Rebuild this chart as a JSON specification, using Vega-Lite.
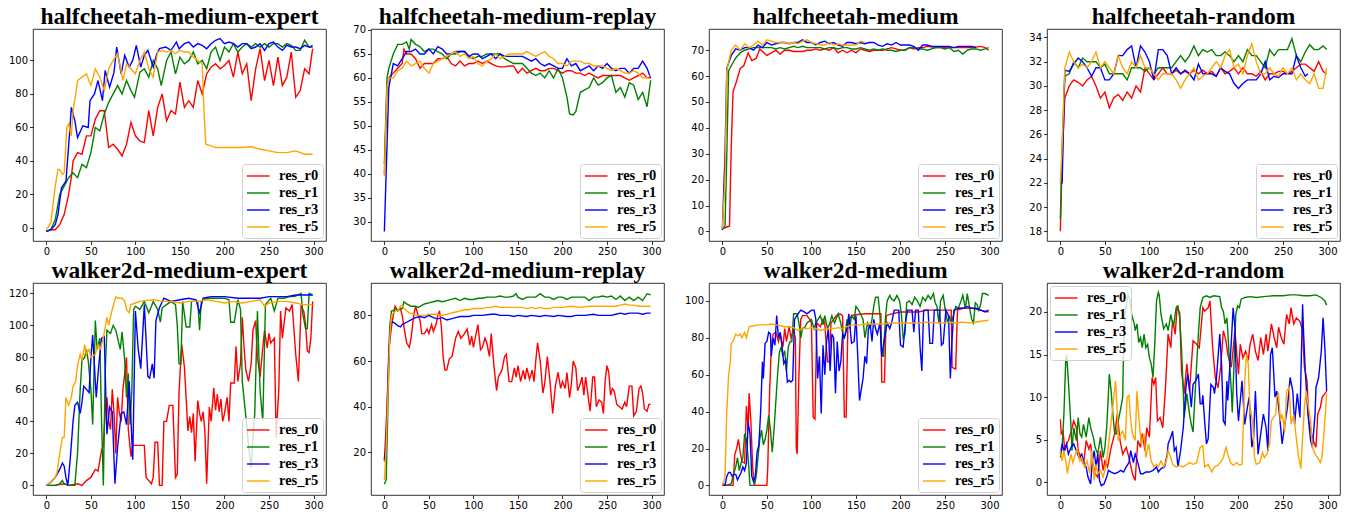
{"$schema":"https://vega.github.io/schema/vega-lite/v6.json","background":"white","padding":{"left":8,"top":4,"right":0,"bottom":0},"columns":4,"spacing":{"row":42,"column":45},"bounds":"flush","resolve":{"scale":{"color":"shared"},"legend":{"color":"independent"}},
"config":{"view":{"stroke":"#000","strokeWidth":0.8},"range":{"category":["#ff0000","#008000","#0000ff","#ffa500"]},"line":{"strokeWidth":1.4},
"axis":{"grid":false,"domain":false,"tickSize":3.5,"tickColor":"#000","tickWidth":0.8,"labelFont":"DejaVu Sans","labelFontSize":10,"labelColor":"#000","labelPadding":2},
"legend":{"orient":"bottom-right","offset":3,"strokeColor":"#d0d0d0","fillColor":"rgba(255,255,255,0.8)","cornerRadius":3,"padding":4,"symbolType":"M-1,0H2.2","symbolStrokeWidth":1.5,"symbolSize":200,"labelFont":"Liberation Serif","labelFontWeight":"bold","labelFontSize":14.5,"labelColor":"#000","rowPadding":2,"labelOffset":17},
"title":{"font":"Liberation Serif","fontSize":23.5,"fontWeight":"bold","color":"#000","offset":1,"anchor":"middle","frame":"group"}},
"datasets":{
"a0":[{"x":0,"y":-2},{"x":5,"y":-1},{"x":10,"y":-1},{"x":15,"y":2},{"x":20,"y":8},{"x":25,"y":20},{"x":28,"y":30},{"x":30,"y":40},{"x":35,"y":45},{"x":40,"y":44},{"x":45,"y":55},{"x":50,"y":55},{"x":55,"y":65},{"x":60,"y":70},{"x":65,"y":70},{"x":70,"y":48},{"x":75,"y":50},{"x":80,"y":47},{"x":85,"y":43},{"x":90,"y":50},{"x":95,"y":63},{"x":100,"y":55},{"x":105,"y":52},{"x":110,"y":51},{"x":115,"y":70},{"x":120,"y":55},{"x":125,"y":72},{"x":130,"y":80},{"x":135,"y":64},{"x":140,"y":70},{"x":145,"y":68},{"x":150,"y":87},{"x":155,"y":72},{"x":160,"y":76},{"x":165,"y":72},{"x":170,"y":88},{"x":175,"y":80},{"x":180,"y":92},{"x":185,"y":96},{"x":190,"y":98},{"x":195,"y":95},{"x":200,"y":97},{"x":205,"y":100},{"x":210,"y":90},{"x":215,"y":105},{"x":220,"y":92},{"x":225,"y":98},{"x":230,"y":76},{"x":235,"y":95},{"x":240,"y":107},{"x":245,"y":88},{"x":250,"y":100},{"x":255,"y":85},{"x":260,"y":102},{"x":265,"y":85},{"x":270,"y":90},{"x":275,"y":105},{"x":280,"y":78},{"x":285,"y":82},{"x":290,"y":95},{"x":295,"y":92},{"x":299,"y":107}],
"a1":[{"x":0,"y":-2},{"x":5,"y":-1},{"x":10,"y":5},{"x":15,"y":20},{"x":20,"y":25},{"x":25,"y":30},{"x":30,"y":33},{"x":35,"y":30},{"x":40,"y":38},{"x":45,"y":36},{"x":50,"y":45},{"x":55,"y":60},{"x":60,"y":58},{"x":65,"y":68},{"x":70,"y":75},{"x":75,"y":80},{"x":80,"y":85},{"x":85,"y":80},{"x":90,"y":88},{"x":95,"y":82},{"x":99,"y":78},{"x":105,"y":93},{"x":110,"y":95},{"x":115,"y":90},{"x":120,"y":100},{"x":125,"y":95},{"x":129,"y":85},{"x":135,"y":100},{"x":140,"y":105},{"x":145,"y":92},{"x":150,"y":102},{"x":155,"y":98},{"x":160,"y":100},{"x":165,"y":105},{"x":170,"y":98},{"x":175,"y":100},{"x":180,"y":95},{"x":185,"y":105},{"x":190,"y":108},{"x":195,"y":100},{"x":200,"y":108},{"x":205,"y":105},{"x":210,"y":110},{"x":215,"y":105},{"x":220,"y":108},{"x":225,"y":110},{"x":230,"y":108},{"x":235,"y":110},{"x":240,"y":108},{"x":245,"y":110},{"x":250,"y":108},{"x":255,"y":110},{"x":260,"y":110},{"x":265,"y":108},{"x":270,"y":110},{"x":275,"y":109},{"x":280,"y":106},{"x":285,"y":106},{"x":290,"y":112},{"x":295,"y":108},{"x":299,"y":109}],
"a3":[{"x":0,"y":-2},{"x":5,"y":-1},{"x":10,"y":2},{"x":13,"y":8},{"x":17,"y":24},{"x":22,"y":28},{"x":26,"y":56},{"x":28,"y":72},{"x":32,"y":64},{"x":35,"y":54},{"x":41,"y":61},{"x":47,"y":60},{"x":49,"y":76},{"x":54,"y":80},{"x":58,"y":88},{"x":63,"y":76},{"x":66,"y":94},{"x":71,"y":84},{"x":76,"y":93},{"x":79,"y":108},{"x":84,"y":92},{"x":88,"y":103},{"x":93,"y":96},{"x":97,"y":100},{"x":101,"y":109},{"x":106,"y":96},{"x":110,"y":103},{"x":114,"y":106},{"x":120,"y":96},{"x":124,"y":104},{"x":127,"y":107},{"x":134,"y":108},{"x":140,"y":106},{"x":146,"y":111},{"x":149,"y":107},{"x":155,"y":110},{"x":160,"y":111},{"x":165,"y":108},{"x":170,"y":110},{"x":175,"y":109},{"x":180,"y":107},{"x":185,"y":110},{"x":190,"y":112},{"x":195,"y":113},{"x":200,"y":110},{"x":205,"y":111},{"x":210,"y":110},{"x":215,"y":108},{"x":220,"y":110},{"x":225,"y":110},{"x":230,"y":107},{"x":235,"y":108},{"x":240,"y":110},{"x":245,"y":106},{"x":250,"y":110},{"x":255,"y":111},{"x":260,"y":108},{"x":265,"y":106},{"x":270,"y":109},{"x":275,"y":108},{"x":280,"y":108},{"x":285,"y":107},{"x":290,"y":109},{"x":295,"y":108},{"x":299,"y":108}],
"a5":[{"x":0,"y":-1},{"x":5,"y":3},{"x":10,"y":25},{"x":13,"y":35},{"x":15,"y":35},{"x":18,"y":32},{"x":20,"y":33},{"x":23,"y":60},{"x":25,"y":62},{"x":28,"y":55},{"x":30,"y":70},{"x":33,"y":80},{"x":35,"y":88},{"x":40,"y":90},{"x":45,"y":92},{"x":50,"y":85},{"x":55,"y":95},{"x":60,"y":90},{"x":65,"y":82},{"x":70,"y":95},{"x":75,"y":100},{"x":80,"y":104},{"x":86,"y":88},{"x":90,"y":98},{"x":95,"y":95},{"x":100,"y":92},{"x":105,"y":100},{"x":110,"y":105},{"x":115,"y":95},{"x":120,"y":90},{"x":125,"y":105},{"x":130,"y":106},{"x":135,"y":105},{"x":140,"y":106},{"x":145,"y":104},{"x":150,"y":106},{"x":155,"y":105},{"x":160,"y":105},{"x":165,"y":102},{"x":170,"y":100},{"x":175,"y":98},{"x":177,"y":70},{"x":179,"y":50},{"x":185,"y":49},{"x":190,"y":48},{"x":200,"y":48},{"x":210,"y":48},{"x":220,"y":48},{"x":230,"y":48.5},{"x":240,"y":47},{"x":250,"y":46},{"x":260,"y":45},{"x":270,"y":45},{"x":280,"y":46},{"x":290,"y":44},{"x":299,"y":44}],
"b0":[{"x":0,"y":40},{"x":3,"y":58},{"x":5,"y":60},{"x":10,"y":61},{"x":15,"y":62},{"x":20,"y":63},{"x":22,"y":66},{"x":25,"y":65},{"x":30,"y":65},{"x":35,"y":64},{"x":40,"y":62},{"x":45,"y":63},{"x":50,"y":63},{"x":55,"y":63},{"x":60,"y":64},{"x":65,"y":64},{"x":70,"y":64.5},{"x":75,"y":63},{"x":80,"y":62.5},{"x":85,"y":63.5},{"x":90,"y":62.5},{"x":95,"y":63},{"x":100,"y":63},{"x":105,"y":63.5},{"x":110,"y":63},{"x":115,"y":63.5},{"x":120,"y":63},{"x":125,"y":62.5},{"x":130,"y":62.3},{"x":135,"y":62.3},{"x":140,"y":62.5},{"x":145,"y":62.5},{"x":150,"y":61},{"x":155,"y":62},{"x":160,"y":61},{"x":165,"y":61.5},{"x":170,"y":62},{"x":175,"y":61.5},{"x":180,"y":61.5},{"x":185,"y":62},{"x":190,"y":62},{"x":195,"y":61.5},{"x":200,"y":61},{"x":205,"y":61.5},{"x":210,"y":61.5},{"x":215,"y":61},{"x":220,"y":61},{"x":225,"y":60.5},{"x":230,"y":61},{"x":235,"y":60.5},{"x":240,"y":60},{"x":245,"y":60.5},{"x":250,"y":60.5},{"x":255,"y":60.5},{"x":260,"y":60.5},{"x":265,"y":60.5},{"x":270,"y":60},{"x":275,"y":59.5},{"x":280,"y":60},{"x":285,"y":60.5},{"x":290,"y":61},{"x":295,"y":60},{"x":299,"y":60}],
"b1":[{"x":0,"y":42},{"x":3,"y":60},{"x":5,"y":62},{"x":10,"y":65},{"x":15,"y":67},{"x":20,"y":67},{"x":25,"y":67.5},{"x":28,"y":66},{"x":30,"y":68},{"x":35,"y":67},{"x":40,"y":66.5},{"x":45,"y":65.5},{"x":50,"y":66},{"x":55,"y":66},{"x":60,"y":65.5},{"x":65,"y":65},{"x":70,"y":64},{"x":75,"y":65},{"x":80,"y":65},{"x":85,"y":65.5},{"x":90,"y":65.5},{"x":95,"y":64.5},{"x":100,"y":64},{"x":105,"y":64.5},{"x":110,"y":64.5},{"x":115,"y":65},{"x":120,"y":65},{"x":125,"y":65},{"x":130,"y":65},{"x":135,"y":64},{"x":140,"y":63.5},{"x":145,"y":63},{"x":150,"y":63},{"x":155,"y":63},{"x":160,"y":62},{"x":165,"y":61},{"x":170,"y":60.5},{"x":175,"y":61},{"x":180,"y":60},{"x":185,"y":61.5},{"x":190,"y":60},{"x":195,"y":62},{"x":200,"y":60},{"x":205,"y":56},{"x":208,"y":52.5},{"x":212,"y":52.3},{"x":215,"y":53},{"x":220,"y":57},{"x":225,"y":57.5},{"x":230,"y":58},{"x":235,"y":60},{"x":240,"y":58.5},{"x":245,"y":59},{"x":250,"y":60},{"x":255,"y":60.5},{"x":260,"y":57},{"x":265,"y":58},{"x":270,"y":56},{"x":275,"y":59},{"x":280,"y":58.5},{"x":285,"y":55.5},{"x":290,"y":57},{"x":295,"y":54},{"x":299,"y":59.5}],
"b3":[{"x":0,"y":28},{"x":2,"y":40},{"x":5,"y":58},{"x":10,"y":63},{"x":15,"y":62.5},{"x":20,"y":64},{"x":25,"y":65.5},{"x":30,"y":65.5},{"x":35,"y":66},{"x":40,"y":65},{"x":45,"y":65},{"x":50,"y":66},{"x":55,"y":65},{"x":60,"y":66.5},{"x":65,"y":66},{"x":70,"y":65},{"x":75,"y":65},{"x":80,"y":65.5},{"x":85,"y":65.5},{"x":90,"y":65.5},{"x":95,"y":64.5},{"x":100,"y":65},{"x":105,"y":65},{"x":110,"y":64},{"x":115,"y":64.5},{"x":120,"y":65},{"x":125,"y":64},{"x":130,"y":65},{"x":135,"y":64.5},{"x":140,"y":64.5},{"x":145,"y":64.5},{"x":150,"y":64.5},{"x":155,"y":64.5},{"x":160,"y":64},{"x":165,"y":63.5},{"x":170,"y":64},{"x":175,"y":63},{"x":180,"y":62.5},{"x":185,"y":63},{"x":190,"y":62.5},{"x":195,"y":62},{"x":200,"y":62},{"x":205,"y":64},{"x":210,"y":62.5},{"x":215,"y":63},{"x":220,"y":61.5},{"x":225,"y":62},{"x":230,"y":62.5},{"x":235,"y":61.5},{"x":240,"y":62.5},{"x":245,"y":62},{"x":250,"y":63},{"x":255,"y":62},{"x":260,"y":61.5},{"x":265,"y":62},{"x":270,"y":62},{"x":275,"y":61},{"x":280,"y":62},{"x":285,"y":62},{"x":290,"y":63.5},{"x":295,"y":62},{"x":299,"y":60}],
"b5":[{"x":0,"y":39.5},{"x":3,"y":58},{"x":5,"y":60},{"x":10,"y":60},{"x":15,"y":61.5},{"x":20,"y":62},{"x":25,"y":63.5},{"x":30,"y":62.5},{"x":35,"y":63},{"x":40,"y":63.5},{"x":45,"y":62},{"x":50,"y":61},{"x":55,"y":63},{"x":60,"y":63.5},{"x":65,"y":64},{"x":70,"y":64.5},{"x":75,"y":65},{"x":80,"y":65.5},{"x":85,"y":64.5},{"x":90,"y":65},{"x":95,"y":64},{"x":100,"y":64.5},{"x":105,"y":63},{"x":110,"y":62.5},{"x":115,"y":63.5},{"x":120,"y":64},{"x":125,"y":65},{"x":130,"y":64},{"x":135,"y":64.5},{"x":140,"y":65},{"x":145,"y":65},{"x":150,"y":65},{"x":155,"y":65},{"x":160,"y":65.5},{"x":165,"y":65},{"x":170,"y":64.5},{"x":175,"y":65},{"x":180,"y":65.5},{"x":185,"y":64.5},{"x":190,"y":64},{"x":195,"y":63},{"x":200,"y":63},{"x":205,"y":62.5},{"x":210,"y":63.5},{"x":215,"y":63.5},{"x":220,"y":63.5},{"x":225,"y":63},{"x":230,"y":63},{"x":235,"y":62.5},{"x":240,"y":62.5},{"x":245,"y":62.5},{"x":250,"y":62},{"x":255,"y":61.5},{"x":260,"y":62},{"x":265,"y":61.5},{"x":270,"y":61},{"x":275,"y":61},{"x":280,"y":61.5},{"x":285,"y":61},{"x":290,"y":60},{"x":295,"y":60},{"x":299,"y":60.5}],
"c0":[{"x":0,"y":1},{"x":5,"y":1.7},{"x":8,"y":2},{"x":10,"y":33},{"x":12,"y":54},{"x":16,"y":58},{"x":20,"y":63},{"x":24,"y":64},{"x":29,"y":69},{"x":33,"y":66},{"x":38,"y":66.8},{"x":42,"y":70.5},{"x":50,"y":68},{"x":55,"y":69},{"x":60,"y":70},{"x":65,"y":68.5},{"x":70,"y":70},{"x":75,"y":70},{"x":80,"y":69.5},{"x":85,"y":69.5},{"x":90,"y":69.5},{"x":95,"y":70},{"x":100,"y":70},{"x":105,"y":70.5},{"x":110,"y":70},{"x":115,"y":70.5},{"x":120,"y":70},{"x":125,"y":71},{"x":130,"y":69},{"x":135,"y":70},{"x":140,"y":69},{"x":145,"y":70},{"x":150,"y":69},{"x":155,"y":70.5},{"x":160,"y":70},{"x":165,"y":69.5},{"x":170,"y":70},{"x":175,"y":70},{"x":180,"y":70},{"x":185,"y":70.5},{"x":190,"y":71},{"x":195,"y":70.5},{"x":200,"y":70},{"x":205,"y":70},{"x":210,"y":71},{"x":215,"y":70.5},{"x":220,"y":71},{"x":225,"y":71},{"x":230,"y":71.5},{"x":240,"y":71},{"x":250,"y":71},{"x":260,"y":71},{"x":270,"y":71},{"x":280,"y":71},{"x":290,"y":71.5},{"x":295,"y":71},{"x":299,"y":70}],
"c1":[{"x":0,"y":1},{"x":3,"y":2},{"x":5,"y":30},{"x":7,"y":62},{"x":10,"y":64},{"x":15,"y":67},{"x":20,"y":69},{"x":25,"y":70},{"x":30,"y":70.5},{"x":35,"y":71},{"x":45,"y":71},{"x":55,"y":71},{"x":60,"y":70.5},{"x":65,"y":71},{"x":70,"y":70.5},{"x":75,"y":71},{"x":80,"y":71.5},{"x":85,"y":71},{"x":90,"y":71.5},{"x":95,"y":71},{"x":110,"y":71},{"x":115,"y":70.5},{"x":120,"y":71},{"x":125,"y":71},{"x":130,"y":70.5},{"x":135,"y":71},{"x":140,"y":71},{"x":145,"y":70.5},{"x":150,"y":70.5},{"x":155,"y":71},{"x":160,"y":70.5},{"x":165,"y":70},{"x":170,"y":70.5},{"x":175,"y":70},{"x":180,"y":70.5},{"x":185,"y":70},{"x":190,"y":70},{"x":195,"y":69.5},{"x":200,"y":70},{"x":205,"y":70},{"x":210,"y":71},{"x":215,"y":71},{"x":220,"y":70.5},{"x":225,"y":70.5},{"x":230,"y":70},{"x":235,"y":70.5},{"x":240,"y":71},{"x":245,"y":71},{"x":250,"y":70.5},{"x":255,"y":71},{"x":260,"y":69.5},{"x":265,"y":70},{"x":270,"y":68.5},{"x":275,"y":70},{"x":280,"y":70.5},{"x":285,"y":70.5},{"x":290,"y":70},{"x":295,"y":70.5},{"x":299,"y":71}],
"c3":[{"x":0,"y":0.5},{"x":3,"y":30},{"x":5,"y":63},{"x":10,"y":68},{"x":15,"y":70.5},{"x":20,"y":70},{"x":25,"y":71},{"x":30,"y":71},{"x":35,"y":70},{"x":40,"y":72},{"x":45,"y":71},{"x":50,"y":73},{"x":55,"y":72},{"x":60,"y":72.5},{"x":65,"y":73},{"x":70,"y":73},{"x":75,"y":72.5},{"x":80,"y":73},{"x":85,"y":73},{"x":90,"y":74},{"x":95,"y":73},{"x":100,"y":73},{"x":105,"y":72},{"x":110,"y":73},{"x":115,"y":73.5},{"x":120,"y":72.5},{"x":125,"y":73},{"x":130,"y":72},{"x":135,"y":71.5},{"x":140,"y":73},{"x":145,"y":73},{"x":150,"y":72.5},{"x":155,"y":73},{"x":160,"y":72.5},{"x":165,"y":73},{"x":170,"y":73},{"x":175,"y":72},{"x":180,"y":71.5},{"x":185,"y":72.5},{"x":190,"y":72},{"x":195,"y":73},{"x":200,"y":72},{"x":205,"y":72},{"x":210,"y":72},{"x":215,"y":71.5},{"x":220,"y":70},{"x":225,"y":72},{"x":230,"y":72},{"x":235,"y":71.5},{"x":245,"y":71.5},{"x":255,"y":71.5},{"x":260,"y":71},{"x":265,"y":71.5},{"x":280,"y":71.5},{"x":285,"y":71}],
"c5":[{"x":0,"y":1},{"x":3,"y":20},{"x":5,"y":62},{"x":10,"y":70},{"x":15,"y":72},{"x":20,"y":70},{"x":25,"y":72.5},{"x":30,"y":71},{"x":35,"y":72},{"x":40,"y":73.5},{"x":45,"y":72},{"x":50,"y":74},{"x":55,"y":73.5},{"x":60,"y":73},{"x":70,"y":73},{"x":75,"y":72.5},{"x":80,"y":73},{"x":85,"y":72.5},{"x":90,"y":73.5},{"x":95,"y":74},{"x":100,"y":73},{"x":105,"y":72.5},{"x":110,"y":72},{"x":115,"y":72},{"x":120,"y":73},{"x":125,"y":72},{"x":130,"y":72.5},{"x":135,"y":72},{"x":150,"y":72},{"x":155,"y":73.5},{"x":160,"y":73}],
"d0":[{"x":0,"y":18},{"x":2,"y":24},{"x":5,"y":29},{"x":10,"y":30},{"x":15,"y":30.5},{"x":20,"y":30.3},{"x":25,"y":30},{"x":30,"y":30.5},{"x":35,"y":30.8},{"x":40,"y":30},{"x":45,"y":29},{"x":50,"y":29.5},{"x":55,"y":28.2},{"x":60,"y":29},{"x":65,"y":29.3},{"x":70,"y":28.8},{"x":75,"y":29.5},{"x":80,"y":29},{"x":85,"y":30},{"x":90,"y":29.5},{"x":95,"y":31.5},{"x":100,"y":31},{"x":105,"y":30.5},{"x":110,"y":31},{"x":115,"y":31.5},{"x":120,"y":31},{"x":125,"y":31},{"x":130,"y":31.3},{"x":135,"y":31},{"x":140,"y":31.2},{"x":145,"y":31},{"x":150,"y":31.3},{"x":155,"y":31},{"x":160,"y":31.3},{"x":165,"y":31},{"x":170,"y":31.2},{"x":175,"y":30.8},{"x":180,"y":31.5},{"x":185,"y":31},{"x":190,"y":31.2},{"x":195,"y":31.5},{"x":200,"y":31},{"x":205,"y":31.5},{"x":210,"y":31},{"x":215,"y":31},{"x":220,"y":30.8},{"x":225,"y":31.2},{"x":230,"y":30.5},{"x":235,"y":31},{"x":240,"y":31},{"x":245,"y":31.2},{"x":250,"y":31.2},{"x":255,"y":31},{"x":260,"y":31.2},{"x":265,"y":31.5},{"x":270,"y":31.8},{"x":275,"y":31.8},{"x":280,"y":31.5},{"x":285,"y":31.2},{"x":290,"y":32},{"x":295,"y":31.2},{"x":299,"y":31}],
"d1":[{"x":0,"y":19},{"x":2,"y":25},{"x":5,"y":30.8},{"x":10,"y":31},{"x":15,"y":32},{"x":20,"y":31.5},{"x":25,"y":32.3},{"x":30,"y":32},{"x":35,"y":32},{"x":40,"y":32},{"x":45,"y":31.5},{"x":50,"y":31.8},{"x":55,"y":31},{"x":60,"y":31},{"x":65,"y":31},{"x":70,"y":31},{"x":75,"y":30.5},{"x":80,"y":31.5},{"x":85,"y":31.5},{"x":90,"y":31.5},{"x":95,"y":31.2},{"x":100,"y":31.5},{"x":105,"y":31},{"x":110,"y":31.5},{"x":115,"y":31.5},{"x":120,"y":31.5},{"x":125,"y":31.5},{"x":130,"y":32},{"x":135,"y":32.5},{"x":140,"y":32},{"x":145,"y":32.5},{"x":150,"y":33.3},{"x":155,"y":32.5},{"x":160,"y":33},{"x":165,"y":32.8},{"x":170,"y":33},{"x":175,"y":32.5},{"x":180,"y":32.5},{"x":185,"y":32.8},{"x":190,"y":32.5},{"x":195,"y":32},{"x":200,"y":32.5},{"x":205,"y":32},{"x":210,"y":33},{"x":215,"y":32.5},{"x":220,"y":32.5},{"x":225,"y":32},{"x":230,"y":31.5},{"x":235,"y":33},{"x":240,"y":32.5},{"x":245,"y":33},{"x":250,"y":33},{"x":255,"y":33},{"x":260,"y":33.9},{"x":265,"y":32.5},{"x":270,"y":32},{"x":275,"y":32.8},{"x":280,"y":33.4},{"x":285,"y":33},{"x":290,"y":33},{"x":295,"y":33.3},{"x":299,"y":33}],
"d3":[{"x":0,"y":22},{"x":2,"y":22},{"x":5,"y":31.3},{"x":10,"y":31.2},{"x":15,"y":31.8},{"x":20,"y":32.3},{"x":25,"y":32},{"x":30,"y":31.5},{"x":35,"y":30.8},{"x":40,"y":31.5},{"x":45,"y":31.5},{"x":50,"y":30.5},{"x":55,"y":30.5},{"x":60,"y":31},{"x":65,"y":32.5},{"x":70,"y":32.5},{"x":75,"y":33},{"x":80,"y":33.3},{"x":85,"y":31.5},{"x":90,"y":33.3},{"x":95,"y":32.8},{"x":100,"y":32},{"x":105,"y":30.5},{"x":110,"y":33},{"x":115,"y":33},{"x":120,"y":32.5},{"x":125,"y":31},{"x":130,"y":31.5},{"x":135,"y":31},{"x":140,"y":31.3},{"x":145,"y":31},{"x":150,"y":30.5},{"x":155,"y":31.8},{"x":160,"y":31},{"x":165,"y":31},{"x":170,"y":31},{"x":175,"y":30.8},{"x":180,"y":31.5},{"x":185,"y":31.2},{"x":190,"y":31},{"x":195,"y":30.2},{"x":200,"y":29.8},{"x":205,"y":30.2},{"x":210,"y":30.5},{"x":215,"y":30.5},{"x":220,"y":30.5},{"x":225,"y":31},{"x":230,"y":32},{"x":235,"y":30.5},{"x":240,"y":30.8},{"x":245,"y":30.7},{"x":250,"y":31},{"x":255,"y":31},{"x":260,"y":31},{"x":265,"y":32.5},{"x":270,"y":31.5},{"x":275,"y":30.8},{"x":278,"y":31}],
"d5":[{"x":0,"y":22},{"x":2,"y":25},{"x":5,"y":31.5},{"x":10,"y":32.8},{"x":15,"y":32},{"x":20,"y":31.5},{"x":25,"y":31.8},{"x":30,"y":31.5},{"x":35,"y":32},{"x":40,"y":32.8},{"x":45,"y":31.5},{"x":50,"y":32},{"x":55,"y":31.5},{"x":60,"y":31},{"x":65,"y":32.5},{"x":70,"y":31.5},{"x":75,"y":31},{"x":80,"y":32},{"x":85,"y":31.5},{"x":90,"y":32.5},{"x":95,"y":31.5},{"x":100,"y":31.5},{"x":105,"y":31},{"x":110,"y":30.5},{"x":115,"y":31},{"x":120,"y":31},{"x":125,"y":31},{"x":130,"y":30.5},{"x":135,"y":29.8},{"x":140,"y":30.5},{"x":145,"y":31},{"x":150,"y":31.5},{"x":155,"y":30.5},{"x":160,"y":30.8},{"x":165,"y":31},{"x":170,"y":31.5},{"x":175,"y":32},{"x":180,"y":31.5},{"x":185,"y":32.5},{"x":190,"y":33},{"x":195,"y":31.5},{"x":200,"y":31.8},{"x":205,"y":31},{"x":210,"y":32.5},{"x":215,"y":33.5},{"x":220,"y":32},{"x":225,"y":31},{"x":230,"y":31},{"x":235,"y":31.5},{"x":240,"y":31},{"x":245,"y":30.8},{"x":250,"y":31.5},{"x":255,"y":31},{"x":260,"y":31.5},{"x":265,"y":30.5},{"x":270,"y":31},{"x":275,"y":30.5},{"x":280,"y":30.2},{"x":285,"y":31},{"x":290,"y":29.8},{"x":295,"y":29.8},{"x":299,"y":31.5}],
"e0":[{"x":0,"y":0},{"x":10,"y":0},{"x":20,"y":1},{"x":25,"y":0},{"x":35,"y":1},{"x":40,"y":0},{"x":45,"y":3},{"x":50,"y":5},{"x":55,"y":10},{"x":58,"y":9},{"x":62,"y":22},{"x":64,"y":25},{"x":66,"y":45},{"x":68,"y":55},{"x":70,"y":40},{"x":72,"y":35},{"x":74,"y":60},{"x":76,"y":45},{"x":78,"y":20},{"x":80,"y":55},{"x":82,"y":45},{"x":84,"y":40},{"x":86,"y":60},{"x":88,"y":70},{"x":90,"y":80},{"x":92,"y":35},{"x":95,"y":18},{"x":97,"y":25},{"x":100,"y":25},{"x":105,"y":25},{"x":110,"y":25},{"x":112,"y":5},{"x":115,"y":3},{"x":118,"y":1},{"x":120,"y":5},{"x":122,"y":27},{"x":125,"y":27},{"x":127,"y":0},{"x":130,"y":0},{"x":132,"y":40},{"x":135,"y":40},{"x":138,"y":50},{"x":142,"y":50},{"x":145,"y":5},{"x":147,"y":7},{"x":149,"y":59},{"x":152,"y":88},{"x":155,"y":74},{"x":159,"y":34},{"x":161,"y":43},{"x":163,"y":33},{"x":165,"y":45},{"x":167,"y":15},{"x":170,"y":53},{"x":172,"y":45},{"x":174,"y":40},{"x":176,"y":46},{"x":178,"y":34},{"x":180,"y":1},{"x":183,"y":49},{"x":185,"y":40},{"x":188,"y":61},{"x":190,"y":47},{"x":192,"y":57},{"x":194,"y":46},{"x":196,"y":54},{"x":198,"y":40},{"x":200,"y":45},{"x":203,"y":55},{"x":205,"y":40},{"x":207,"y":64},{"x":211,"y":64},{"x":213,"y":87},{"x":215,"y":65},{"x":218,"y":76},{"x":220,"y":105},{"x":222,"y":86},{"x":224,"y":72},{"x":227,"y":65},{"x":230,"y":76},{"x":232,"y":97},{"x":235,"y":103},{"x":237,"y":80},{"x":240,"y":68},{"x":243,"y":86},{"x":245,"y":97},{"x":248,"y":86},{"x":250,"y":95},{"x":252,"y":89},{"x":256,"y":92},{"x":258,"y":30},{"x":261,"y":60},{"x":263,"y":109},{"x":265,"y":92},{"x":269,"y":111},{"x":273,"y":109},{"x":276,"y":113},{"x":280,"y":82},{"x":283,"y":65},{"x":286,"y":112},{"x":289,"y":109},{"x":291,"y":101},{"x":293,"y":84},{"x":295,"y":83},{"x":297,"y":92},{"x":299,"y":115}],
"e1":[{"x":0,"y":0},{"x":10,"y":0},{"x":15,"y":1},{"x":18,"y":3},{"x":20,"y":1},{"x":25,"y":0},{"x":32,"y":0},{"x":35,"y":20},{"x":38,"y":60},{"x":40,"y":78},{"x":43,"y":80},{"x":45,"y":85},{"x":47,"y":78},{"x":50,"y":60},{"x":52,"y":38},{"x":55,"y":103},{"x":57,"y":85},{"x":60,"y":92},{"x":62,"y":40},{"x":64,"y":0},{"x":66,"y":70},{"x":68,"y":97},{"x":72,"y":95},{"x":75,"y":100},{"x":78,"y":97},{"x":80,"y":92},{"x":83,"y":85},{"x":85,"y":96},{"x":88,"y":78},{"x":90,"y":55},{"x":92,"y":70},{"x":94,"y":38},{"x":96,"y":60},{"x":98,"y":110},{"x":100,"y":112},{"x":105,"y":110},{"x":110,"y":115},{"x":115,"y":108},{"x":118,"y":112},{"x":120,"y":115},{"x":125,"y":110},{"x":128,"y":102},{"x":130,"y":111},{"x":135,"y":113},{"x":140,"y":115},{"x":145,"y":113},{"x":147,"y":100},{"x":149,"y":76},{"x":151,"y":76},{"x":153,"y":115},{"x":157,"y":99},{"x":161,"y":99},{"x":163,"y":115},{"x":170,"y":115},{"x":172,"y":97},{"x":174,"y":115},{"x":180,"y":117},{"x":190,"y":117},{"x":200,"y":117},{"x":205,"y":116},{"x":207,"y":102},{"x":211,"y":102},{"x":215,"y":116},{"x":218,"y":110},{"x":220,"y":65},{"x":224,"y":43},{"x":228,"y":20},{"x":230,"y":11},{"x":232,"y":30},{"x":234,"y":45},{"x":237,"y":109},{"x":240,"y":59},{"x":243,"y":40},{"x":246,"y":113},{"x":249,"y":115},{"x":252,"y":117},{"x":256,"y":109},{"x":260,"y":117},{"x":267,"y":117},{"x":273,"y":118},{"x":279,"y":118},{"x":286,"y":120},{"x":288,"y":107},{"x":291,"y":98},{"x":293,"y":98},{"x":295,"y":120},{"x":299,"y":119}],
"e3":[{"x":0,"y":0},{"x":5,"y":2},{"x":10,"y":5},{"x":15,"y":10},{"x":18,"y":14},{"x":20,"y":12},{"x":22,"y":5},{"x":24,"y":0},{"x":25,"y":5},{"x":27,"y":18},{"x":30,"y":40},{"x":32,"y":50},{"x":35,"y":52},{"x":38,"y":45},{"x":40,"y":52},{"x":42,"y":62},{"x":45,"y":60},{"x":48,"y":58},{"x":50,"y":80},{"x":52,"y":94},{"x":56,"y":55},{"x":59,"y":76},{"x":62,"y":92},{"x":65,"y":93},{"x":68,"y":32},{"x":71,"y":49},{"x":74,"y":46},{"x":77,"y":1},{"x":80,"y":24},{"x":84,"y":45},{"x":87,"y":46},{"x":90,"y":38},{"x":93,"y":65},{"x":97,"y":16},{"x":100,"y":109},{"x":103,"y":86},{"x":106,"y":73},{"x":110,"y":113},{"x":114,"y":68},{"x":116,"y":67},{"x":119,"y":76},{"x":121,"y":67},{"x":123,"y":103},{"x":127,"y":111},{"x":132,"y":117},{"x":140,"y":115},{"x":150,"y":116},{"x":160,"y":117},{"x":168,"y":116},{"x":172,"y":108},{"x":176,"y":117},{"x":185,"y":118},{"x":200,"y":118},{"x":215,"y":117},{"x":240,"y":117},{"x":250,"y":118},{"x":270,"y":118},{"x":280,"y":119},{"x":299,"y":119}],
"e5":[{"x":0,"y":0},{"x":5,"y":2},{"x":10,"y":5},{"x":12,"y":8},{"x":15,"y":20},{"x":18,"y":30},{"x":20,"y":30},{"x":22,"y":55},{"x":25,"y":50},{"x":28,"y":55},{"x":30,"y":62},{"x":33,"y":65},{"x":35,"y":75},{"x":38,"y":82},{"x":40,"y":78},{"x":43,"y":88},{"x":45,"y":82},{"x":48,"y":85},{"x":50,"y":80},{"x":55,"y":82},{"x":58,"y":88},{"x":60,"y":85},{"x":63,"y":90},{"x":65,"y":95},{"x":68,"y":105},{"x":70,"y":100},{"x":73,"y":108},{"x":75,"y":112},{"x":78,"y":118},{"x":80,"y":117},{"x":85,"y":117},{"x":88,"y":115},{"x":90,"y":110},{"x":93,"y":108},{"x":95,"y":113},{"x":100,"y":114},{"x":105,"y":115},{"x":110,"y":115.5},{"x":120,"y":116},{"x":130,"y":115},{"x":140,"y":115},{"x":150,"y":114},{"x":160,"y":115},{"x":170,"y":115},{"x":180,"y":116},{"x":190,"y":115},{"x":200,"y":114},{"x":210,"y":115},{"x":220,"y":114},{"x":230,"y":115},{"x":240,"y":116},{"x":245,"y":112},{"x":250,"y":114},{"x":260,"y":115},{"x":270,"y":115},{"x":280,"y":114},{"x":290,"y":113},{"x":299,"y":113}],
"f0":[{"x":0,"y":16},{"x":3,"y":40},{"x":5,"y":65},{"x":8,"y":75},{"x":10,"y":80},{"x":12,"y":84},{"x":15,"y":82},{"x":18,"y":83},{"x":20,"y":80},{"x":22,"y":75},{"x":25,"y":68},{"x":28,"y":66},{"x":30,"y":70},{"x":33,"y":80},{"x":35,"y":84},{"x":38,"y":80},{"x":40,"y":78},{"x":42,"y":72},{"x":45,"y":72},{"x":48,"y":74},{"x":50,"y":72},{"x":53,"y":76},{"x":55,"y":73},{"x":58,"y":76},{"x":60,"y":80},{"x":62,"y":82},{"x":64,"y":75},{"x":66,"y":62},{"x":68,"y":56},{"x":70,"y":56},{"x":73,"y":61},{"x":76,"y":62},{"x":80,"y":70},{"x":83,"y":73},{"x":86,"y":70},{"x":90,"y":72},{"x":93,"y":74},{"x":96,"y":67},{"x":98,"y":71},{"x":100,"y":66},{"x":103,"y":72},{"x":105,"y":76},{"x":108,"y":65},{"x":110,"y":66},{"x":113,"y":70},{"x":115,"y":68},{"x":118,"y":62},{"x":120,"y":72},{"x":123,"y":58},{"x":126,"y":47},{"x":128,"y":53},{"x":132,"y":56},{"x":135,"y":62},{"x":137,"y":63},{"x":140,"y":51},{"x":143,"y":51},{"x":146,"y":57},{"x":148,"y":53},{"x":150,"y":58},{"x":153,"y":51},{"x":156,"y":56},{"x":158,"y":52},{"x":160,"y":57},{"x":163,"y":52},{"x":166,"y":56},{"x":168,"y":51},{"x":170,"y":60},{"x":172,"y":68},{"x":175,"y":60},{"x":178,"y":46},{"x":180,"y":50},{"x":183,"y":62},{"x":186,"y":51},{"x":189,"y":37},{"x":192,"y":49},{"x":195,"y":55},{"x":198,"y":48},{"x":200,"y":51},{"x":203,"y":48},{"x":205,"y":55},{"x":208,"y":44},{"x":210,"y":50},{"x":212,"y":60},{"x":215,"y":57},{"x":217,"y":47},{"x":220,"y":50},{"x":222,"y":53},{"x":224,"y":45},{"x":226,"y":53},{"x":229,"y":44},{"x":231,"y":38},{"x":234,"y":53},{"x":236,"y":53},{"x":238,"y":40},{"x":241,"y":43},{"x":244,"y":42},{"x":246,"y":37},{"x":248,"y":52},{"x":250,"y":58},{"x":252,"y":55},{"x":254,"y":45},{"x":256,"y":48},{"x":258,"y":47},{"x":261,"y":41},{"x":264,"y":40},{"x":267,"y":39},{"x":270,"y":42},{"x":272,"y":40},{"x":275,"y":49},{"x":278,"y":49},{"x":280,"y":36},{"x":283,"y":38},{"x":286,"y":48},{"x":288,"y":49},{"x":290,"y":46},{"x":292,"y":39},{"x":295,"y":38},{"x":297,"y":41},{"x":299,"y":41}],
"f1":[{"x":0,"y":6},{"x":2,"y":8},{"x":4,"y":40},{"x":6,"y":75},{"x":8,"y":82},{"x":10,"y":82},{"x":12,"y":83},{"x":15,"y":82},{"x":18,"y":83},{"x":20,"y":83},{"x":22,"y":86},{"x":25,"y":85},{"x":28,"y":84.5},{"x":30,"y":84},{"x":35,"y":84},{"x":38,"y":83.5},{"x":40,"y":84},{"x":45,"y":85},{"x":50,"y":85.5},{"x":55,"y":86},{"x":60,"y":86.5},{"x":65,"y":86},{"x":70,"y":86.5},{"x":75,"y":87},{"x":80,"y":87.5},{"x":85,"y":86.5},{"x":90,"y":87.5},{"x":95,"y":87},{"x":100,"y":87},{"x":105,"y":87.5},{"x":110,"y":87.5},{"x":115,"y":88},{"x":120,"y":88},{"x":125,"y":88},{"x":130,"y":88.5},{"x":135,"y":88},{"x":140,"y":88},{"x":145,"y":88.5},{"x":148,"y":89.5},{"x":150,"y":88},{"x":155,"y":87},{"x":160,"y":88},{"x":165,"y":88},{"x":170,"y":88},{"x":175,"y":89.5},{"x":180,"y":88},{"x":185,"y":88},{"x":190,"y":87},{"x":195,"y":88},{"x":200,"y":88},{"x":205,"y":87},{"x":210,"y":88},{"x":215,"y":88},{"x":220,"y":88},{"x":225,"y":88},{"x":230,"y":86.5},{"x":235,"y":88},{"x":240,"y":88},{"x":245,"y":88.5},{"x":250,"y":88},{"x":255,"y":88.5},{"x":260,"y":87},{"x":265,"y":88.5},{"x":270,"y":86.5},{"x":275,"y":88},{"x":280,"y":86.5},{"x":285,"y":88},{"x":290,"y":86.5},{"x":295,"y":89.5},{"x":299,"y":89}],
"f3":[{"x":0,"y":17},{"x":2,"y":22},{"x":4,"y":50},{"x":6,"y":72},{"x":8,"y":77},{"x":10,"y":77},{"x":12,"y":76.5},{"x":15,"y":75.5},{"x":18,"y":75},{"x":20,"y":76},{"x":25,"y":77},{"x":30,"y":78},{"x":35,"y":79},{"x":40,"y":79.5},{"x":45,"y":79},{"x":50,"y":80},{"x":55,"y":79},{"x":60,"y":78.5},{"x":65,"y":79},{"x":70,"y":78},{"x":75,"y":78.5},{"x":80,"y":79},{"x":85,"y":79.5},{"x":95,"y":79.5},{"x":100,"y":80},{"x":110,"y":80},{"x":120,"y":80.5},{"x":125,"y":80.5},{"x":130,"y":80},{"x":140,"y":80},{"x":145,"y":79.5},{"x":150,"y":80},{"x":160,"y":79.5},{"x":165,"y":80},{"x":175,"y":79.5},{"x":180,"y":80},{"x":190,"y":79.5},{"x":195,"y":80},{"x":205,"y":79.5},{"x":210,"y":79.5},{"x":215,"y":80},{"x":225,"y":80},{"x":235,"y":80.5},{"x":240,"y":80},{"x":255,"y":80},{"x":260,"y":80.5},{"x":265,"y":81},{"x":270,"y":80.5},{"x":275,"y":81},{"x":285,"y":81},{"x":290,"y":80.5},{"x":295,"y":81},{"x":299,"y":81}],
"f5":[{"x":0,"y":8},{"x":2,"y":22},{"x":4,"y":45},{"x":6,"y":70},{"x":8,"y":80},{"x":10,"y":81},{"x":13,"y":82},{"x":15,"y":82},{"x":18,"y":84},{"x":20,"y":84.5},{"x":22,"y":83},{"x":25,"y":82},{"x":28,"y":81},{"x":30,"y":81},{"x":35,"y":80},{"x":45,"y":80},{"x":50,"y":80.5},{"x":60,"y":80.5},{"x":65,"y":80},{"x":70,"y":80.5},{"x":75,"y":81},{"x":80,"y":81.5},{"x":85,"y":82},{"x":90,"y":82.5},{"x":95,"y":82.5},{"x":100,"y":83},{"x":110,"y":83},{"x":115,"y":83.5},{"x":120,"y":83.5},{"x":125,"y":84},{"x":130,"y":83.5},{"x":155,"y":83.5},{"x":160,"y":83},{"x":165,"y":83.5},{"x":170,"y":83},{"x":175,"y":83.5},{"x":180,"y":83},{"x":185,"y":83},{"x":190,"y":83.5},{"x":200,"y":83.5},{"x":210,"y":84},{"x":220,"y":83.5},{"x":230,"y":84},{"x":260,"y":84},{"x":265,"y":84.5},{"x":270,"y":85},{"x":275,"y":84.5},{"x":280,"y":84.5},{"x":285,"y":84},{"x":299,"y":84}],
"g0":[{"x":0,"y":1},{"x":5,"y":0},{"x":12,"y":0},{"x":14,"y":17},{"x":16,"y":20},{"x":18,"y":25},{"x":20,"y":18},{"x":22,"y":13},{"x":25,"y":12},{"x":27,"y":43},{"x":29,"y":30},{"x":30,"y":50},{"x":32,"y":35},{"x":34,"y":10},{"x":36,"y":0},{"x":50,"y":0},{"x":51,"y":10},{"x":53,"y":50},{"x":55,"y":75},{"x":57,"y":82},{"x":60,"y":83},{"x":63,"y":78},{"x":65,"y":82},{"x":68,"y":75},{"x":70,"y":85},{"x":72,"y":78},{"x":75,"y":86},{"x":77,"y":80},{"x":80,"y":84},{"x":82,"y":80},{"x":83,"y":20},{"x":84,"y":17},{"x":86,"y":60},{"x":88,"y":90},{"x":90,"y":92},{"x":95,"y":92},{"x":98,"y":90},{"x":100,"y":88},{"x":102,"y":37},{"x":104,"y":36},{"x":106,"y":88},{"x":110,"y":86},{"x":113,"y":90},{"x":115,"y":88},{"x":118,"y":67},{"x":120,"y":67},{"x":122,"y":88},{"x":125,"y":90},{"x":128,"y":92},{"x":132,"y":93},{"x":135,"y":92},{"x":137,"y":37},{"x":139,"y":37},{"x":141,"y":88},{"x":145,"y":92},{"x":150,"y":92.5},{"x":160,"y":93},{"x":178,"y":93},{"x":179,"y":56},{"x":182,"y":56},{"x":184,"y":92},{"x":190,"y":93},{"x":200,"y":94},{"x":220,"y":94},{"x":230,"y":95},{"x":257,"y":95},{"x":258,"y":64},{"x":262,"y":63},{"x":264,"y":95},{"x":270,"y":96},{"x":280,"y":96},{"x":290,"y":95},{"x":299,"y":94}],
"g1":[{"x":0,"y":0},{"x":5,"y":0},{"x":10,"y":1},{"x":12,"y":5},{"x":15,"y":10},{"x":17,"y":15},{"x":19,"y":8},{"x":21,"y":12},{"x":23,"y":15},{"x":25,"y":28},{"x":27,"y":25},{"x":29,"y":15},{"x":31,"y":0},{"x":36,"y":0},{"x":38,"y":5},{"x":40,"y":15},{"x":42,"y":25},{"x":44,"y":30},{"x":46,"y":22},{"x":48,"y":25},{"x":50,"y":30},{"x":52,"y":38},{"x":54,"y":30},{"x":56,"y":18},{"x":58,"y":30},{"x":60,"y":45},{"x":62,"y":60},{"x":64,"y":72},{"x":66,"y":75},{"x":68,"y":70},{"x":70,"y":73},{"x":72,"y":62},{"x":74,"y":75},{"x":76,"y":78},{"x":78,"y":78},{"x":80,"y":93},{"x":84,"y":93},{"x":86,"y":88},{"x":88,"y":80},{"x":90,"y":85},{"x":93,"y":86},{"x":95,"y":88},{"x":100,"y":90},{"x":103,"y":85},{"x":105,"y":88},{"x":110,"y":92},{"x":113,"y":87},{"x":115,"y":92},{"x":118,"y":85},{"x":120,"y":87},{"x":123,"y":92},{"x":126,"y":88},{"x":130,"y":93},{"x":133,"y":88},{"x":136,"y":80},{"x":138,"y":82},{"x":140,"y":90},{"x":143,"y":85},{"x":145,"y":92},{"x":148,"y":90},{"x":150,"y":97},{"x":153,"y":95},{"x":155,"y":93},{"x":158,"y":90},{"x":160,"y":80},{"x":163,"y":88},{"x":166,"y":85},{"x":168,"y":90},{"x":170,"y":97},{"x":172,"y":102},{"x":175,"y":102},{"x":177,"y":92},{"x":179,"y":70},{"x":181,"y":70},{"x":183,"y":90},{"x":185,"y":100},{"x":188,"y":103},{"x":190,"y":101},{"x":193,"y":100},{"x":196,"y":103},{"x":199,"y":100},{"x":201,"y":93},{"x":203,"y":80},{"x":205,"y":82},{"x":207,"y":99},{"x":210,"y":100},{"x":213,"y":98},{"x":216,"y":102},{"x":219,"y":100},{"x":222,"y":97},{"x":225,"y":102},{"x":228,"y":100},{"x":231,"y":103},{"x":234,"y":101},{"x":237,"y":104},{"x":239,"y":99},{"x":241,"y":97},{"x":243,"y":88},{"x":245,"y":100},{"x":248,"y":103},{"x":250,"y":96},{"x":253,"y":88},{"x":255,"y":92},{"x":257,"y":88},{"x":260,"y":93},{"x":262,"y":97},{"x":265,"y":96},{"x":268,"y":100},{"x":270,"y":103},{"x":273,"y":96},{"x":275,"y":104},{"x":278,"y":95},{"x":280,"y":90},{"x":282,"y":88},{"x":284,"y":99},{"x":286,"y":98},{"x":288,"y":95},{"x":290,"y":98},{"x":292,"y":104},{"x":295,"y":104},{"x":299,"y":103}],
"g3":[{"x":0,"y":0},{"x":3,"y":0},{"x":5,"y":5},{"x":7,"y":7},{"x":9,"y":7},{"x":11,"y":5},{"x":13,"y":6},{"x":15,"y":6},{"x":17,"y":3},{"x":19,"y":5},{"x":21,"y":7},{"x":23,"y":10},{"x":25,"y":8},{"x":27,"y":12},{"x":29,"y":34},{"x":31,"y":28},{"x":33,"y":5},{"x":35,"y":2},{"x":37,"y":5},{"x":39,"y":18},{"x":41,"y":22},{"x":43,"y":40},{"x":45,"y":67},{"x":46,"y":58},{"x":48,"y":77},{"x":50,"y":78},{"x":52,"y":83},{"x":54,"y":82},{"x":55,"y":70},{"x":57,"y":80},{"x":59,"y":76},{"x":61,"y":92},{"x":63,"y":80},{"x":65,"y":83},{"x":67,"y":75},{"x":69,"y":66},{"x":71,"y":68},{"x":73,"y":56},{"x":75,"y":57},{"x":77,"y":56},{"x":79,"y":57},{"x":81,"y":90},{"x":85,"y":93},{"x":88,"y":95},{"x":92,"y":94},{"x":95,"y":93},{"x":100,"y":95},{"x":103,"y":95},{"x":105,"y":90},{"x":107,"y":58},{"x":109,"y":70},{"x":111,"y":39},{"x":113,"y":76},{"x":115,"y":60},{"x":117,"y":78},{"x":119,"y":85},{"x":121,"y":62},{"x":123,"y":82},{"x":125,"y":80},{"x":127,"y":50},{"x":129,"y":78},{"x":131,"y":62},{"x":133,"y":67},{"x":135,"y":82},{"x":137,"y":80},{"x":140,"y":85},{"x":142,"y":93},{"x":145,"y":77},{"x":148,"y":78},{"x":150,"y":92},{"x":152,"y":70},{"x":154,"y":46},{"x":156,"y":52},{"x":158,"y":58},{"x":160,"y":70},{"x":162,"y":66},{"x":164,"y":85},{"x":166,"y":87},{"x":168,"y":78},{"x":170,"y":90},{"x":172,"y":85},{"x":174,"y":82},{"x":177,"y":88},{"x":179,"y":70},{"x":182,"y":80},{"x":185,"y":88},{"x":188,"y":85},{"x":190,"y":88},{"x":193,"y":95},{"x":198,"y":95},{"x":200,"y":76},{"x":203,"y":75},{"x":206,"y":90},{"x":208,"y":95},{"x":213,"y":95},{"x":215,"y":83},{"x":217,"y":95},{"x":220,"y":95},{"x":222,"y":75},{"x":224,"y":62},{"x":226,"y":95},{"x":231,"y":95},{"x":233,"y":77},{"x":236,"y":77},{"x":238,"y":95},{"x":244,"y":95},{"x":246,"y":76},{"x":248,"y":77},{"x":251,"y":95},{"x":254,"y":92},{"x":256,"y":58},{"x":258,"y":80},{"x":260,"y":95},{"x":265,"y":96},{"x":270,"y":96},{"x":275,"y":97},{"x":280,"y":96},{"x":285,"y":96},{"x":290,"y":95},{"x":295,"y":94},{"x":299,"y":95}],
"g5":[{"x":0,"y":0},{"x":2,"y":3},{"x":3,"y":5},{"x":5,"y":40},{"x":7,"y":60},{"x":9,"y":67},{"x":10,"y":77},{"x":12,"y":78},{"x":15,"y":82},{"x":18,"y":81},{"x":20,"y":82},{"x":22,"y":80},{"x":25,"y":83},{"x":27,"y":80},{"x":30,"y":86},{"x":35,"y":86.5},{"x":40,"y":87},{"x":50,"y":87},{"x":55,"y":87.5},{"x":60,"y":87},{"x":65,"y":86.5},{"x":70,"y":86},{"x":75,"y":86},{"x":80,"y":85.5},{"x":85,"y":84},{"x":90,"y":85},{"x":95,"y":85},{"x":100,"y":85.5},{"x":105,"y":85},{"x":110,"y":84},{"x":115,"y":84.5},{"x":120,"y":85},{"x":125,"y":85},{"x":130,"y":85.5},{"x":135,"y":85},{"x":140,"y":86},{"x":145,"y":87},{"x":155,"y":87},{"x":160,"y":87.5},{"x":180,"y":87.5},{"x":190,"y":88},{"x":220,"y":88},{"x":230,"y":88.5},{"x":240,"y":88},{"x":250,"y":88},{"x":255,"y":88.5},{"x":260,"y":88},{"x":270,"y":88.5},{"x":280,"y":88},{"x":290,"y":89},{"x":299,"y":89.5}],
"h0":[{"x":0,"y":7.4},{"x":1,"y":5.7},{"x":3,"y":6},{"x":5,"y":3.7},{"x":7,"y":4.5},{"x":9,"y":4.9},{"x":12,"y":5.9},{"x":15,"y":7.2},{"x":18,"y":6.4},{"x":20,"y":3.7},{"x":23,"y":2.9},{"x":26,"y":2.1},{"x":29,"y":4.9},{"x":32,"y":3.9},{"x":34,"y":4.5},{"x":36,"y":2.5},{"x":39,"y":1},{"x":42,"y":0.6},{"x":45,"y":3.7},{"x":48,"y":1.4},{"x":50,"y":2.5},{"x":53,"y":1.8},{"x":57,"y":4.1},{"x":61,"y":5.7},{"x":64,"y":8},{"x":67,"y":4.9},{"x":70,"y":3.3},{"x":74,"y":4.1},{"x":77,"y":2.9},{"x":81,"y":1},{"x":84,"y":0.2},{"x":87,"y":4.9},{"x":90,"y":4.1},{"x":92,"y":5.7},{"x":95,"y":3.7},{"x":97,"y":6.4},{"x":100,"y":5.3},{"x":103,"y":12.3},{"x":105,"y":11.5},{"x":107,"y":12.3},{"x":109,"y":7.2},{"x":112,"y":7.6},{"x":115,"y":6.4},{"x":118,"y":11},{"x":121,"y":17.4},{"x":124,"y":15.8},{"x":126,"y":19},{"x":129,"y":17.4},{"x":131,"y":20.5},{"x":134,"y":19.9},{"x":136,"y":13.1},{"x":139,"y":10.4},{"x":142,"y":13.9},{"x":145,"y":10.7},{"x":149,"y":16.6},{"x":153,"y":16.2},{"x":156,"y":15.8},{"x":160,"y":20.5},{"x":162,"y":20.1},{"x":166,"y":20.5},{"x":168,"y":21.3},{"x":171,"y":15.8},{"x":174,"y":12.3},{"x":177,"y":11.1},{"x":180,"y":13.5},{"x":183,"y":17.8},{"x":186,"y":16.6},{"x":188,"y":15},{"x":192,"y":13.5},{"x":196,"y":17.8},{"x":200,"y":12.7},{"x":202,"y":16.2},{"x":205,"y":14.6},{"x":208,"y":15.4},{"x":211,"y":14.3},{"x":213,"y":16.2},{"x":216,"y":17.4},{"x":219,"y":15.4},{"x":222,"y":14.3},{"x":225,"y":17},{"x":228,"y":15},{"x":231,"y":17.4},{"x":233,"y":15.4},{"x":237,"y":18.6},{"x":240,"y":17},{"x":243,"y":15.8},{"x":245,"y":18.2},{"x":248,"y":17},{"x":251,"y":16.2},{"x":254,"y":19.7},{"x":257,"y":18.6},{"x":259,"y":20.5},{"x":262,"y":18.6},{"x":265,"y":19.3},{"x":269,"y":18.9},{"x":272,"y":17.8},{"x":274,"y":13.5},{"x":277,"y":11.9},{"x":279,"y":7.2},{"x":282,"y":5.7},{"x":284,"y":4.9},{"x":287,"y":4.1},{"x":289,"y":8},{"x":292,"y":8.8},{"x":294,"y":10},{"x":297,"y":10.4},{"x":299,"y":10.7}],
"h1":[{"x":0,"y":2.9},{"x":2,"y":4.1},{"x":4,"y":8},{"x":6,"y":14.3},{"x":7,"y":15},{"x":9,"y":11.9},{"x":12,"y":6.4},{"x":13,"y":3.7},{"x":15,"y":6.4},{"x":18,"y":4.9},{"x":20,"y":7.6},{"x":22,"y":5.7},{"x":24,"y":5.3},{"x":26,"y":6.8},{"x":29,"y":5.3},{"x":32,"y":7.6},{"x":34,"y":6.4},{"x":37,"y":5.3},{"x":39,"y":4.1},{"x":42,"y":3.3},{"x":45,"y":5.3},{"x":48,"y":2.9},{"x":50,"y":4.1},{"x":52,"y":6.4},{"x":53,"y":8.4},{"x":55,"y":12.7},{"x":57,"y":10.7},{"x":59,"y":8},{"x":61,"y":5.7},{"x":63,"y":5.7},{"x":65,"y":7.2},{"x":68,"y":8.8},{"x":70,"y":10},{"x":71,"y":15.8},{"x":73,"y":20.1},{"x":76,"y":22},{"x":78,"y":21.5},{"x":80,"y":19.7},{"x":83,"y":18.6},{"x":84,"y":17.8},{"x":86,"y":18.6},{"x":88,"y":16.4},{"x":90,"y":17},{"x":92,"y":15.8},{"x":94,"y":17.4},{"x":96,"y":15.8},{"x":98,"y":16.2},{"x":100,"y":14.6},{"x":102,"y":13.9},{"x":104,"y":12.3},{"x":106,"y":16.2},{"x":108,"y":21.3},{"x":110,"y":22.3},{"x":111,"y":22},{"x":113,"y":19.7},{"x":116,"y":18},{"x":119,"y":18.6},{"x":121,"y":17.8},{"x":124,"y":19.7},{"x":127,"y":18.2},{"x":130,"y":20.5},{"x":132,"y":20.7},{"x":134,"y":19.3},{"x":136,"y":15.8},{"x":138,"y":10.7},{"x":139,"y":7.6},{"x":142,"y":10.4},{"x":145,"y":8},{"x":147,"y":6.8},{"x":149,"y":5.9},{"x":152,"y":11.9},{"x":155,"y":17.4},{"x":157,"y":20.5},{"x":160,"y":21.7},{"x":164,"y":21.9},{"x":168,"y":21.7},{"x":172,"y":21.9},{"x":179,"y":21.8},{"x":181,"y":20.5},{"x":183,"y":20.1},{"x":185,"y":18.6},{"x":187,"y":19.3},{"x":188,"y":17.8},{"x":190,"y":13.9},{"x":192,"y":10.7},{"x":193,"y":8.2},{"x":195,"y":13.9},{"x":197,"y":19.7},{"x":199,"y":20.7},{"x":201,"y":20.5},{"x":203,"y":21.5},{"x":207,"y":21.7},{"x":213,"y":21.8},{"x":220,"y":21.7},{"x":228,"y":21.8},{"x":239,"y":21.9},{"x":250,"y":21.9},{"x":258,"y":22},{"x":265,"y":22},{"x":273,"y":21.9},{"x":280,"y":21.9},{"x":287,"y":22},{"x":293,"y":21.7},{"x":297,"y":21.3},{"x":299,"y":20.8}],
"h3":[{"x":0,"y":3.3},{"x":2,"y":4.5},{"x":4,"y":3.7},{"x":7,"y":4.5},{"x":9,"y":3.3},{"x":12,"y":4.1},{"x":15,"y":4.5},{"x":18,"y":3.7},{"x":21,"y":2.9},{"x":24,"y":3.3},{"x":27,"y":2.1},{"x":29,"y":1.8},{"x":31,"y":0.6},{"x":34,"y":-0.2},{"x":36,"y":2.5},{"x":38,"y":3.7},{"x":40,"y":1.8},{"x":42,"y":3.3},{"x":44,"y":0.2},{"x":46,"y":-0.4},{"x":49,"y":-0.2},{"x":52,"y":0.6},{"x":54,"y":1.4},{"x":57,"y":1.2},{"x":61,"y":1},{"x":65,"y":1.2},{"x":68,"y":1.4},{"x":71,"y":1.2},{"x":74,"y":1.8},{"x":77,"y":2.3},{"x":79,"y":3.7},{"x":82,"y":2.3},{"x":84,"y":3.3},{"x":87,"y":2.3},{"x":90,"y":1},{"x":93,"y":1},{"x":96,"y":1.2},{"x":100,"y":1.2},{"x":104,"y":1.4},{"x":108,"y":1.8},{"x":110,"y":1.2},{"x":113,"y":1.6},{"x":117,"y":1.8},{"x":120,"y":3.3},{"x":121,"y":4.5},{"x":124,"y":5.3},{"x":126,"y":6},{"x":128,"y":3.7},{"x":130,"y":4.1},{"x":132,"y":1.8},{"x":135,"y":3.7},{"x":138,"y":6.4},{"x":139,"y":8},{"x":141,"y":11.1},{"x":143,"y":12.7},{"x":145,"y":11.1},{"x":147,"y":8.8},{"x":149,"y":11.5},{"x":152,"y":11.9},{"x":155,"y":12.7},{"x":157,"y":9.2},{"x":159,"y":9.2},{"x":160,"y":10.2},{"x":162,"y":7.2},{"x":164,"y":4.5},{"x":166,"y":5.1},{"x":169,"y":11.5},{"x":172,"y":11.1},{"x":173,"y":10.4},{"x":175,"y":11.9},{"x":177,"y":14.6},{"x":179,"y":17.4},{"x":181,"y":13.9},{"x":183,"y":7.2},{"x":185,"y":6.8},{"x":187,"y":11.9},{"x":188,"y":9.6},{"x":190,"y":13.1},{"x":192,"y":16.6},{"x":194,"y":20.5},{"x":196,"y":18.2},{"x":198,"y":10.4},{"x":200,"y":7.2},{"x":202,"y":9.6},{"x":204,"y":11.9},{"x":207,"y":6.8},{"x":210,"y":8.8},{"x":212,"y":10},{"x":215,"y":4.1},{"x":217,"y":5.3},{"x":219,"y":10.7},{"x":222,"y":3.3},{"x":225,"y":5.7},{"x":228,"y":8},{"x":231,"y":6.4},{"x":233,"y":3.7},{"x":236,"y":15},{"x":238,"y":15.8},{"x":241,"y":10},{"x":243,"y":10.7},{"x":246,"y":8},{"x":249,"y":4.5},{"x":252,"y":6.8},{"x":255,"y":8.8},{"x":258,"y":12.3},{"x":261,"y":10.7},{"x":263,"y":6.8},{"x":266,"y":10.4},{"x":269,"y":7.6},{"x":272,"y":20.9},{"x":273,"y":17.8},{"x":275,"y":13.1},{"x":278,"y":8},{"x":281,"y":4.9},{"x":283,"y":4.1},{"x":286,"y":8},{"x":287,"y":11.1},{"x":290,"y":12.3},{"x":293,"y":15.4},{"x":295,"y":19.3},{"x":297,"y":15.8},{"x":299,"y":10.7}],
"h5":[{"x":0,"y":3.7},{"x":2,"y":2.5},{"x":4,"y":3.7},{"x":6,"y":2.5},{"x":8,"y":1},{"x":9,"y":1.8},{"x":12,"y":3.3},{"x":14,"y":2.3},{"x":17,"y":3.3},{"x":19,"y":3.9},{"x":22,"y":2.5},{"x":24,"y":2.9},{"x":27,"y":1.8},{"x":30,"y":2.5},{"x":33,"y":1},{"x":35,"y":3.7},{"x":37,"y":1.8},{"x":38,"y":0.2},{"x":40,"y":2.1},{"x":42,"y":1},{"x":45,"y":1.4},{"x":48,"y":0.6},{"x":50,"y":1.4},{"x":53,"y":3.3},{"x":55,"y":5.3},{"x":58,"y":8},{"x":60,"y":10},{"x":62,"y":11.9},{"x":64,"y":8},{"x":65,"y":4.9},{"x":68,"y":5.7},{"x":70,"y":6},{"x":73,"y":4.9},{"x":75,"y":10},{"x":77,"y":10.2},{"x":79,"y":7.2},{"x":81,"y":5.7},{"x":84,"y":4.9},{"x":86,"y":10.7},{"x":89,"y":6.4},{"x":91,"y":4.5},{"x":94,"y":5.7},{"x":96,"y":2.9},{"x":99,"y":4.5},{"x":102,"y":2.5},{"x":105,"y":1.8},{"x":108,"y":2.1},{"x":110,"y":1.8},{"x":113,"y":2.5},{"x":116,"y":1.8},{"x":119,"y":2.5},{"x":121,"y":3.7},{"x":124,"y":2.9},{"x":126,"y":2.1},{"x":130,"y":1.8},{"x":134,"y":2},{"x":137,"y":1.8},{"x":141,"y":2},{"x":145,"y":2.3},{"x":149,"y":2.1},{"x":153,"y":2.3},{"x":157,"y":4.1},{"x":160,"y":4.3},{"x":162,"y":1.8},{"x":166,"y":2.1},{"x":170,"y":1.2},{"x":173,"y":1.8},{"x":177,"y":2},{"x":181,"y":2.5},{"x":183,"y":2.9},{"x":186,"y":4.1},{"x":188,"y":3.3},{"x":191,"y":2.3},{"x":194,"y":2},{"x":198,"y":2.3},{"x":201,"y":2},{"x":204,"y":2.1},{"x":207,"y":11.9},{"x":209,"y":15},{"x":211,"y":13.9},{"x":213,"y":8},{"x":214,"y":8.4},{"x":216,"y":6.8},{"x":218,"y":2.9},{"x":220,"y":2.1},{"x":224,"y":2.3},{"x":227,"y":3.5},{"x":229,"y":2.9},{"x":232,"y":3.3},{"x":235,"y":4.5},{"x":237,"y":7.2},{"x":239,"y":7.6},{"x":242,"y":8},{"x":243,"y":10},{"x":245,"y":10.4},{"x":247,"y":7.2},{"x":249,"y":8},{"x":252,"y":6},{"x":254,"y":10.7},{"x":257,"y":11.1},{"x":259,"y":6.8},{"x":262,"y":8},{"x":264,"y":6},{"x":267,"y":3.3},{"x":270,"y":1.6},{"x":272,"y":5.3},{"x":274,"y":8.8},{"x":276,"y":10.7},{"x":278,"y":9.2},{"x":281,"y":7.2},{"x":283,"y":4.1},{"x":286,"y":3.3},{"x":289,"y":2.9},{"x":292,"y":2.3},{"x":294,"y":3.1},{"x":297,"y":7.2},{"x":299,"y":10.4}]
},
"concat":[
{"width":293,"height":212,"title":{"text":"halfcheetah-medium-expert"},"encoding":{"x":{"field":"x","type":"quantitative","title":null,"scale":{"domain":[-15,314],"nice":false},"axis":{"values":[0,50,100,150,200,250,300]}},"y":{"field":"y","type":"quantitative","title":null,"scale":{"domain":[-7.75,118.75],"nice":false,"zero":false},"axis":{"values":[0,20,40,60,80,100]}}},
"layer":[{"data":{"name":"a0"},"mark":"line","encoding":{"color":{"datum":"res_r0","type":"nominal","title":null}}},{"data":{"name":"a1"},"mark":"line","encoding":{"color":{"datum":"res_r1","type":"nominal","title":null}}},{"data":{"name":"a3"},"mark":"line","encoding":{"color":{"datum":"res_r3","type":"nominal","title":null}}},{"data":{"name":"a5"},"mark":"line","encoding":{"color":{"datum":"res_r5","type":"nominal","title":null}}}]},
{"width":293,"height":212,"title":{"text":"halfcheetah-medium-replay","dy":5},"encoding":{"x":{"field":"x","type":"quantitative","title":null,"scale":{"domain":[-15,314],"nice":false},"axis":{"values":[0,50,100,150,200,250,300]}},"y":{"field":"y","type":"quantitative","title":null,"scale":{"domain":[26,70.2],"nice":false,"zero":false},"axis":{"values":[30,35,40,45,50,55,60,65,70]}}},
"layer":[{"data":{"name":"b0"},"mark":"line","encoding":{"color":{"datum":"res_r0","type":"nominal","title":null}}},{"data":{"name":"b1"},"mark":"line","encoding":{"color":{"datum":"res_r1","type":"nominal","title":null}}},{"data":{"name":"b3"},"mark":"line","encoding":{"color":{"datum":"res_r3","type":"nominal","title":null}}},{"data":{"name":"b5"},"mark":"line","encoding":{"color":{"datum":"res_r5","type":"nominal","title":null}}}]},
{"width":293,"height":212,"title":{"text":"halfcheetah-medium"},"encoding":{"x":{"field":"x","type":"quantitative","title":null,"scale":{"domain":[-15,314],"nice":false},"axis":{"values":[0,50,100,150,200,250,300]}},"y":{"field":"y","type":"quantitative","title":null,"scale":{"domain":[-3.7,78.2],"nice":false,"zero":false},"axis":{"values":[0,10,20,30,40,50,60,70]}}},
"layer":[{"data":{"name":"c0"},"mark":"line","encoding":{"color":{"datum":"res_r0","type":"nominal","title":null}}},{"data":{"name":"c1"},"mark":"line","encoding":{"color":{"datum":"res_r1","type":"nominal","title":null}}},{"data":{"name":"c3"},"mark":"line","encoding":{"color":{"datum":"res_r3","type":"nominal","title":null}}},{"data":{"name":"c5"},"mark":"line","encoding":{"color":{"datum":"res_r5","type":"nominal","title":null}}}]},
{"width":293,"height":212,"title":{"text":"halfcheetah-random"},"encoding":{"x":{"field":"x","type":"quantitative","title":null,"scale":{"domain":[-15,314],"nice":false},"axis":{"values":[0,50,100,150,200,250,300]}},"y":{"field":"y","type":"quantitative","title":null,"scale":{"domain":[17.2,34.7],"nice":false,"zero":false},"axis":{"values":[18,20,22,24,26,28,30,32,34]}}},
"layer":[{"data":{"name":"d0"},"mark":"line","encoding":{"color":{"datum":"res_r0","type":"nominal","title":null}}},{"data":{"name":"d1"},"mark":"line","encoding":{"color":{"datum":"res_r1","type":"nominal","title":null}}},{"data":{"name":"d3"},"mark":"line","encoding":{"color":{"datum":"res_r3","type":"nominal","title":null}}},{"data":{"name":"d5"},"mark":"line","encoding":{"color":{"datum":"res_r5","type":"nominal","title":null}}}]},
{"width":293,"height":212,"title":{"text":"walker2d-medium-expert"},"encoding":{"x":{"field":"x","type":"quantitative","title":null,"scale":{"domain":[-15,314],"nice":false},"axis":{"values":[0,50,100,150,200,250,300]}},"y":{"field":"y","type":"quantitative","title":null,"scale":{"domain":[-6,126.5],"nice":false,"zero":false},"axis":{"values":[0,20,40,60,80,100,120]}}},
"layer":[{"data":{"name":"e0"},"mark":"line","encoding":{"color":{"datum":"res_r0","type":"nominal","title":null}}},{"data":{"name":"e1"},"mark":"line","encoding":{"color":{"datum":"res_r1","type":"nominal","title":null}}},{"data":{"name":"e3"},"mark":"line","encoding":{"color":{"datum":"res_r3","type":"nominal","title":null}}},{"data":{"name":"e5"},"mark":"line","encoding":{"color":{"datum":"res_r5","type":"nominal","title":null}}}]},
{"width":293,"height":212,"title":{"text":"walker2d-medium-replay"},"encoding":{"x":{"field":"x","type":"quantitative","title":null,"scale":{"domain":[-15,314],"nice":false},"axis":{"values":[0,50,100,150,200,250,300]}},"y":{"field":"y","type":"quantitative","title":null,"scale":{"domain":[1.3,94.2],"nice":false,"zero":false},"axis":{"values":[20,40,60,80]}}},
"layer":[{"data":{"name":"f0"},"mark":"line","encoding":{"color":{"datum":"res_r0","type":"nominal","title":null}}},{"data":{"name":"f1"},"mark":"line","encoding":{"color":{"datum":"res_r1","type":"nominal","title":null}}},{"data":{"name":"f3"},"mark":"line","encoding":{"color":{"datum":"res_r3","type":"nominal","title":null}}},{"data":{"name":"f5"},"mark":"line","encoding":{"color":{"datum":"res_r5","type":"nominal","title":null}}}]},
{"width":293,"height":212,"title":{"text":"walker2d-medium"},"encoding":{"x":{"field":"x","type":"quantitative","title":null,"scale":{"domain":[-15,314],"nice":false},"axis":{"values":[0,50,100,150,200,250,300]}},"y":{"field":"y","type":"quantitative","title":null,"scale":{"domain":[-5.2,109.7],"nice":false,"zero":false},"axis":{"values":[0,20,40,60,80,100]}}},
"layer":[{"data":{"name":"g0"},"mark":"line","encoding":{"color":{"datum":"res_r0","type":"nominal","title":null}}},{"data":{"name":"g1"},"mark":"line","encoding":{"color":{"datum":"res_r1","type":"nominal","title":null}}},{"data":{"name":"g3"},"mark":"line","encoding":{"color":{"datum":"res_r3","type":"nominal","title":null}}},{"data":{"name":"g5"},"mark":"line","encoding":{"color":{"datum":"res_r5","type":"nominal","title":null}}}]},
{"width":293,"height":212,"title":{"text":"walker2d-random"},"encoding":{"x":{"field":"x","type":"quantitative","title":null,"scale":{"domain":[-15,314],"nice":false},"axis":{"values":[0,50,100,150,200,250,300]}},"y":{"field":"y","type":"quantitative","title":null,"scale":{"domain":[-1.5,23.4],"nice":false,"zero":false},"axis":{"values":[0,5,10,15,20]}}},
"layer":[{"data":{"name":"h0"},"mark":"line","encoding":{"color":{"datum":"res_r0","type":"nominal","title":null,"legend":{"orient":"top-left"}}}},{"data":{"name":"h1"},"mark":"line","encoding":{"color":{"datum":"res_r1","type":"nominal","title":null,"legend":{"orient":"top-left"}}}},{"data":{"name":"h3"},"mark":"line","encoding":{"color":{"datum":"res_r3","type":"nominal","title":null,"legend":{"orient":"top-left"}}}},{"data":{"name":"h5"},"mark":"line","encoding":{"color":{"datum":"res_r5","type":"nominal","title":null,"legend":{"orient":"top-left"}}}}]}
]}
